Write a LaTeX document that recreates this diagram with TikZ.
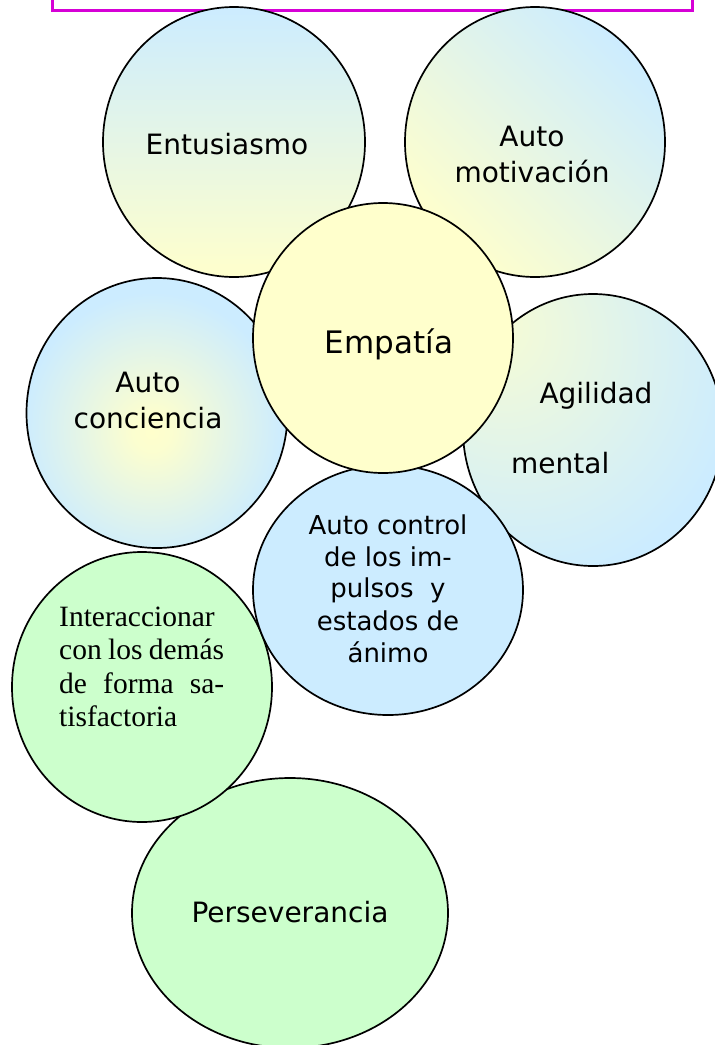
\documentclass[tikz,border=0pt]{standalone}
\usepackage{fontspec}
\usetikzlibrary{shapes.geometric}
\newfontfamily\labelfont{DejaVu Sans}
\newfontfamily\seriffont{Liberation Serif}
\definecolor{lblue}{RGB}{204,236,255}
\definecolor{lyellow}{RGB}{255,255,204}
\definecolor{lgreen}{RGB}{204,255,204}
\definecolor{framecol}{RGB}{214,0,214}
\pgfdeclareradialshading{conciglow}{\pgfpoint{-1bp}{-3.5bp}}{color(0bp)=(lyellow); color(4bp)=(lyellow!92!lblue); color(25bp)=(lblue); color(100bp)=(lblue)}
\pgfdeclareradialshading{agiglow}{\pgfpoint{-20bp}{20bp}}{color(0bp)=(lyellow!85!lblue); color(40bp)=(lblue); color(100bp)=(lblue)}
\tikzset{
  bubble/.style={ellipse, draw=black, line width=1.7pt, inner sep=0pt},
  lbl/.style={inner sep=0pt, anchor=base, font=\labelfont\fontsize{28}{34}\selectfont},
  lblbig/.style={lbl, font=\labelfont\fontsize{31}{37}\selectfont},
  lblsmall/.style={lbl, font=\labelfont\fontsize{26}{32}\selectfont},
  serifline/.style={inner sep=0pt, anchor=base west, font=\seriffont\fontsize{29.5}{34}\selectfont}
}
\begin{document}
\begin{tikzpicture}[x=1pt,y=-1pt]
\useasboundingbox (0,0) rectangle (715,1045);
\clip (0,0) rectangle (715,1045);
% frame at the top
\node[draw=framecol, line width=3pt, minimum width=640pt, minimum height=40pt, inner sep=0pt] (frame) at (372,-10) {};
% bubbles, back to front
\node[bubble, fill=lgreen, minimum width=316pt, minimum height=270pt] (pers) at (290,913) {};
\node[bubble, fill=lgreen, minimum width=260pt, minimum height=270pt] (inter) at (142,687) {};
\node[bubble, shading=agiglow, minimum width=260pt, minimum height=272pt] (agil) at (593,430) {};
\node[bubble, fill=lblue, minimum width=270pt, minimum height=250pt] (ctrl) at (388,590) {};
\node[bubble, top color=lblue, bottom color=lyellow, minimum width=262pt, minimum height=270pt] (entu) at (234,142) {};
\node[bubble, top color=lblue, bottom color=lyellow, shading angle=-45, minimum width=260pt, minimum height=270pt] (moti) at (535,142) {};
\node[bubble, shading=conciglow, minimum width=261pt, minimum height=270pt] (conc) at (157,413) {};
\node[bubble, fill=lyellow, minimum width=260pt, minimum height=270pt] (empa) at (383,338) {};
% labels
\node[lbl] (tentu) at (227,154) {Entusiasmo};
\node[lbl] (tmoti1) at (532,146) {Auto};
\node[lbl] (tmoti2) at (532,182) {motivación};
\node[lblbig] (tempa) at (389,353) {Empatía};
\node[lbl] (tconc1) at (148,392) {Auto};
\node[lbl] (tconc2) at (148,428) {conciencia};
\node[lbl] (tagil1) at (596,403) {Agilidad};
\node[lbl, anchor=base west] (tagil2) at (511,473) {mental};
\node[lblsmall] (tctrl1) at (388,534) {Auto control};
\node[lblsmall] (tctrl2) at (388,566) {de los im-};
\node[lblsmall] (tctrl3) at (388,597) {pulsos\ \ y};
\node[lblsmall] (tctrl4) at (388,630) {estados de};
\node[lblsmall] (tctrl5) at (388,662) {ánimo};
\node[serifline] (tint1) at (59,626) {Interaccionar};
\node[serifline] (tint2) at (59,659.5) {\hbox to 165pt{con\hspace{0pt plus 1fil}los\hspace{0pt plus 1fil}demás}};
\node[serifline] (tint3) at (59,693) {\hbox to 165pt{de\hspace{0pt plus 1fil}forma\hspace{0pt plus 1fil}sa-}};
\node[serifline] (tint4) at (59,726.5) {tisfactoria};
\node[lbl] (tpers) at (290,922) {Perseverancia};
\end{tikzpicture}
\end{document}
